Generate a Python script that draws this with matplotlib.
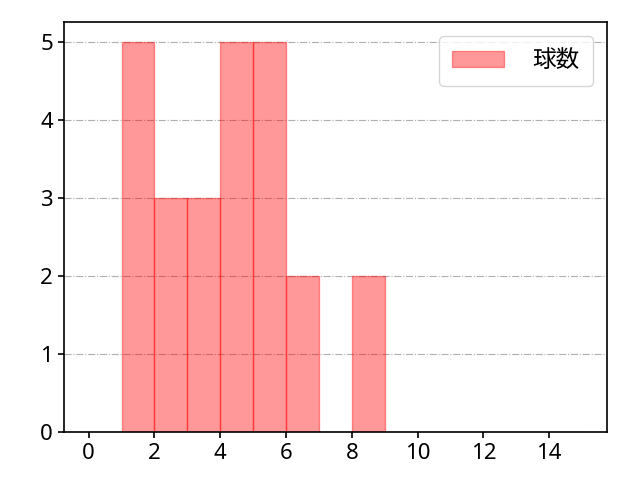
import numpy as np
import matplotlib
matplotlib.use('Agg')
import matplotlib.pyplot as plt

plt.rcParams['font.family'] = ['Noto Sans', 'Noto Sans CJK JP', 'DejaVu Sans']

# histogram bins (width 1) and counts per bin
bin_edges = list(range(0, 16))
counts = [0, 5, 3, 3, 5, 5, 2, 0, 2, 0, 0, 0, 0, 0, 0]
label = '球数'

fig, ax = plt.subplots(figsize=(6.4, 4.8), dpi=100)
fig.subplots_adjust(left=0.1, right=0.948, top=0.954, bottom=0.1)

ax.hist(bin_edges[:-1], bins=bin_edges, weights=counts,
        color='red', alpha=0.4, linewidth=1.0, edgecolor='red', label=label)

ax.grid(axis='y', linestyle='-.', color='#b0b0b0', linewidth=0.8)
ax.set_axisbelow(True)
ax.set_xticks(np.arange(0, 16, 2))
ax.set_yticks(range(0, 6))
ax.tick_params(labelsize=16, width=1.2, length=4.5)
for s in ax.spines.values():
    s.set_linewidth(1.2)
ax.legend(loc='upper right', fontsize=17, borderpad=0.55, handlelength=2.2,
          handletextpad=1.2, borderaxespad=0.6)

plt.savefig('out.png')
